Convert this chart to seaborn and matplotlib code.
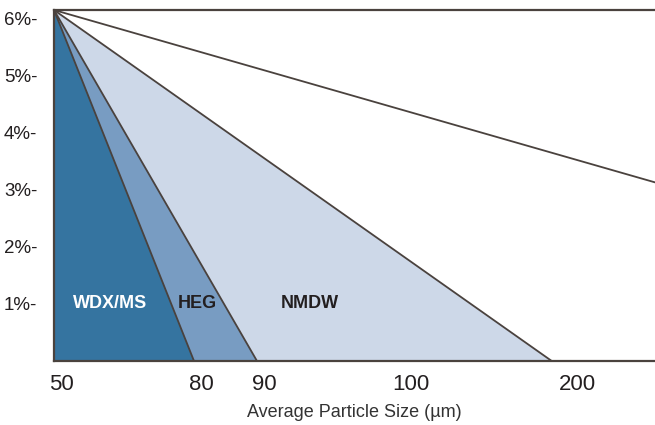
import numpy as np
import pandas as pd
import matplotlib
matplotlib.use("Agg")
import matplotlib.pyplot as plt
import matplotlib.transforms as mtransforms
import seaborn as sns

# ---- data ----
regions = ["WDX/MS", "HEG", "NMDW"]
region_end = [80, 90, 189]          # particle size where each region reaches 0 %
region_colors = ["#3574a0", "#789cc2", "#cdd8e8"]
region_text_colors = ["white", "#231f20", "#231f20"]
start_size = 50
start_pct = 6.15
top_line_x = [50, 250]
top_line_y = [6.15, 3.13]
x_ticks = [50, 80, 90, 100, 200]
x_ticklabels = ["50", "80", "90", "100", "200"]
y_ticks = [1, 2, 3, 4, 5, 6]
y_ticklabels = ["1%-", "2%-", "3%-", "4%-", "5%-", "6%-"]

# piecewise axis scale (non-uniform tick spacing in the original)
scale_vals = [50, 80, 90, 100, 200, 250]
scale_pos = [0, 140, 203, 350, 516, 601]

sns.set_theme(style="white")
plt.rcParams["font.family"] = ["Liberation Sans", "DejaVu Sans"]

fig = plt.figure(figsize=(6.55, 4.25), dpi=100)
ax = fig.add_axes([54 / 655, 1 - 361 / 425, 601 / 655, 351 / 425])

def fwd(x):
    return np.interp(x, scale_vals, scale_pos, left=-1e3, right=1e3)

def inv(p):
    return np.interp(p, scale_pos, scale_vals)

ax.set_xscale("function", functions=(fwd, inv))

line_col = "#4a423e"
# draw regions from widest to narrowest (straight edges in display space)
for name, end, col in reversed(list(zip(regions, region_end, region_colors))):
    ax.fill([start_size, end, start_size], [start_pct, 0.0, 0.0],
            color=col, linewidth=0, zorder=1)
    df = pd.DataFrame({"x": [start_size, end], "y": [start_pct, 0.0]})
    sns.lineplot(data=df, x="x", y="y", ax=ax, color=line_col, linewidth=1.3,
                 zorder=3, estimator=None, sort=False)

tl = pd.DataFrame({"x": top_line_x, "y": top_line_y})
sns.lineplot(data=tl, x="x", y="y", ax=ax, color=line_col, linewidth=1.3,
             zorder=3, estimator=None, sort=False)

ax.set_xlim(50, 250)
ax.set_ylim(0, 6.15)

# region labels
label_xfrac = [0.093, 0.238, 0.426]
trans = mtransforms.blended_transform_factory(ax.transAxes, ax.transData)
for name, xf, tc in zip(regions, label_xfrac, region_text_colors):
    ax.text(xf, 1.0, name, transform=trans, ha="center", va="center",
            fontsize=13, fontweight="bold", color=tc, zorder=4)

ax.set_xticks(x_ticks)
ax.set_xticklabels(x_ticklabels)
ax.set_yticks(y_ticks)
ax.set_yticklabels(y_ticklabels)
ax.tick_params(axis="x", length=0, pad=9, labelsize=16, labelcolor="#231f20")
ax.tick_params(axis="y", length=0, pad=12, labelsize=13.5, labelcolor="#231f20")
offset = mtransforms.ScaledTranslation(7 / 100, 0, fig.dpi_scale_trans)
for lab in ax.get_xticklabels():
    lab.set_transform(lab.get_transform() + offset)

ax.set_xlabel("Average Particle Size (µm)", fontsize=13, color="#333333", labelpad=7)
ax.set_ylabel("")

for side in ["left", "top", "bottom"]:
    ax.spines[side].set_color(line_col)
    ax.spines[side].set_linewidth(1.6)
    ax.spines[side].set_zorder(5)
ax.spines["right"].set_visible(False)
ax.grid(False)

fig.savefig("out.png", dpi=100)
